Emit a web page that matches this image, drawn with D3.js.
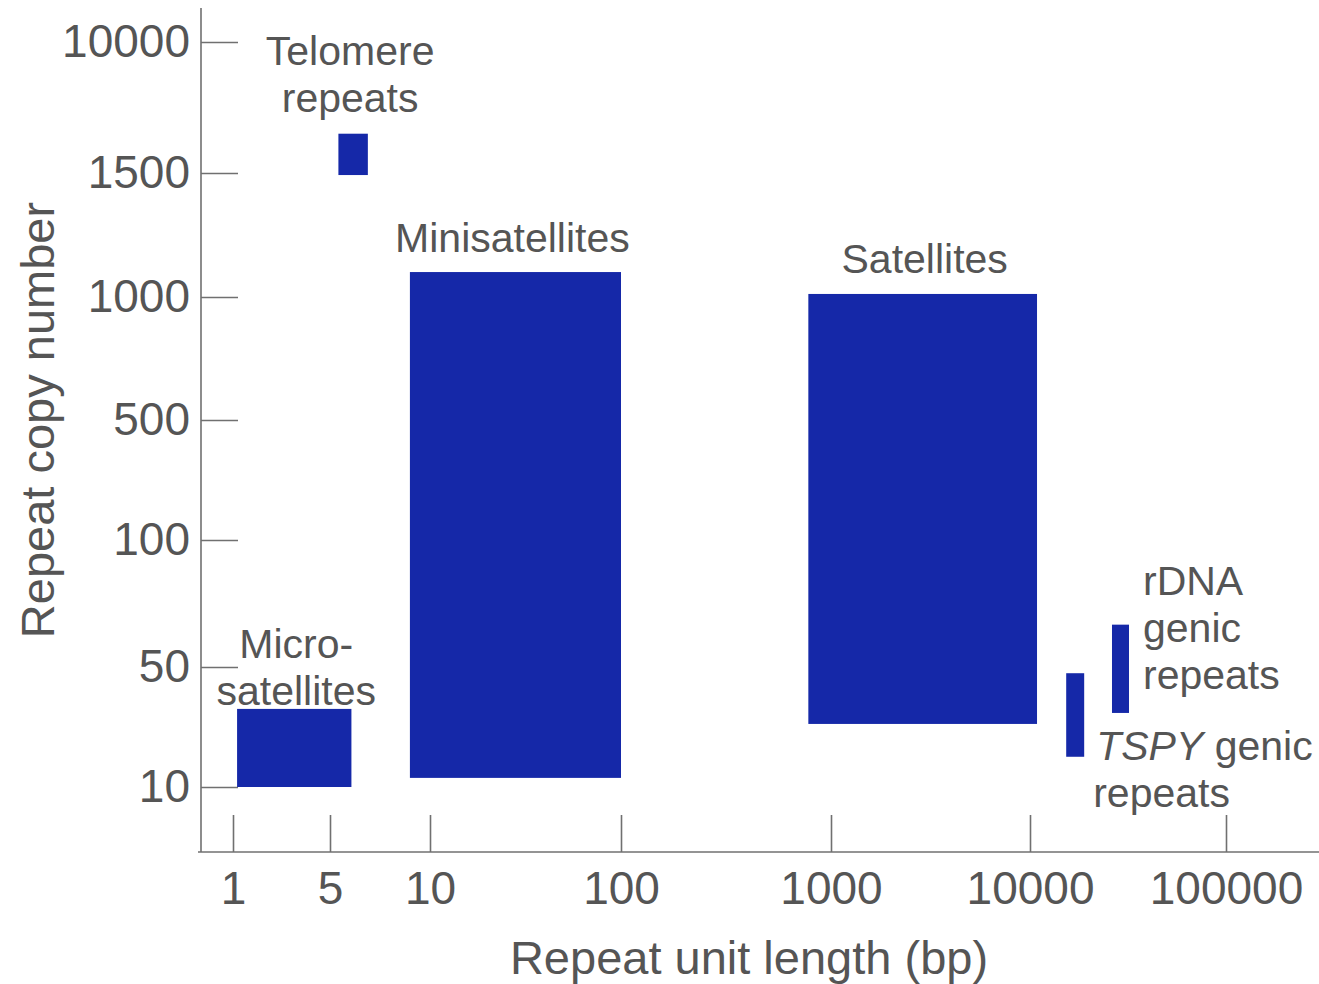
<!DOCTYPE html>
<html>
<head>
<meta charset="utf-8">
<script src="https://cdn.jsdelivr.net/npm/d3@7"></script>
<style>
  body { margin: 0; background: #fff; }
  svg { font-family: "Liberation Sans", Arial, sans-serif; }
</style>
</head>
<body>
<svg id="main"></svg>
<script>
//--------data----------
const xTicks = [1, 5, 10, 100, 1000, 10000, 100000];
const yTicks = [10, 50, 100, 500, 1000, 1500, 10000];

const repeatNames = ['Telomere', 'Micro', 'Mini', 'Satellites', 'TSPY', 'rDNA'];
// unit length range (bp)
const unitMin = [5.3, 1.07, 8.7, 780, 15300, 26200];
const unitMax = [6.5, 5.8, 100, 10860, 18900, 32000];
// copy number range
const copyMin = [1490, 10, 11.3, 23.3, 15, 27];
const copyMax = [2650, 28.5, 1085, 1010, 46, 63];

const xTitle = 'Repeat unit length (bp)';
const yTitle = 'Repeat copy number';

//--------code----------
const width = 1319, height = 984;
const svg = d3.select('#main').attr('width', width).attr('height', height);

const textColor = '#555555';
const lineColor = '#707070';
const barColor = '#1528a8';

// the axes are not evenly spaced, so piecewise log scales through the tick values
const x = d3.scaleLog().domain(xTicks).range([233, 330, 430, 621, 831, 1030, 1226]);
const y = d3.scaleLog().domain(yTicks).range([787, 667, 540, 420, 297, 173, 42]);

const axisX0 = 201, axisY0 = 852;

// axis lines
svg.append('line')
  .attr('x1', axisX0).attr('x2', axisX0)
  .attr('y1', 8).attr('y2', axisY0)
  .attr('stroke', lineColor).attr('stroke-width', 1.6);
svg.append('line')
  .attr('x1', 198).attr('x2', width)
  .attr('y1', axisY0).attr('y2', axisY0)
  .attr('stroke', lineColor).attr('stroke-width', 1.6);

const ay = d3.axisLeft(y).tickValues(yTicks).tickFormat(d => d).tickSize(-37).tickPadding(11);
const gy = svg.append('g')
  .attr('transform', `translate(${axisX0},0)`)
  .call(ay);
gy.select('.domain').remove();

const ax = d3.axisBottom(x).tickValues(xTicks).tickFormat(d => d).tickSize(-37).tickPadding(19);
const gx = svg.append('g')
  .attr('transform', `translate(0,${axisY0})`)
  .call(ax);
gx.select('.domain').remove();

svg.selectAll('.tick line').attr('stroke', lineColor).attr('stroke-width', 1.6);
svg.selectAll('.tick text')
  .attr('fill', textColor)
  .style('font-size', '46px')
  .style('font-family', '"Liberation Sans", Arial, sans-serif');

// axis titles
svg.append('text')
  .attr('x', 749).attr('y', 974)
  .attr('text-anchor', 'middle')
  .attr('fill', textColor)
  .style('font-size', '47px')
  .text(xTitle);
svg.append('text')
  .attr('transform', 'translate(54,420) rotate(-90)')
  .attr('text-anchor', 'middle')
  .attr('fill', textColor)
  .style('font-size', '47px')
  .text(yTitle);

// bars
const bars = repeatNames.map((n, i) => ({
  name: n, x0: unitMin[i], x1: unitMax[i], y0: copyMin[i], y1: copyMax[i]
}));
svg.selectAll('.bar')
  .data(bars)
  .join('rect')
  .attr('class', 'bar')
  .attr('x', d => x(d.x0))
  .attr('y', d => y(d.y1))
  .attr('width', d => x(d.x1) - x(d.x0))
  .attr('height', d => y(d.y0) - y(d.y1))
  .attr('fill', barColor);

// labels, placed relative to their bars
const byName = {};
bars.forEach(b => byName[b.name] = b);
const cx = b => (x(b.x0) + x(b.x1)) / 2;

function label(px, py, lines, anchor){
  const t = svg.append('text')
    .attr('x', px).attr('y', py)
    .attr('text-anchor', anchor)
    .attr('fill', textColor)
    .style('font-size', '41px');
  lines.forEach((l, i) => {
    const ts = t.append('tspan').attr('x', px).attr('dy', i === 0 ? 0 : 47);
    if(Array.isArray(l)){
      ts.append('tspan').style('font-style', 'italic').text(l[0]);
      ts.append('tspan').text(l[1]);
    }else{
      ts.text(l);
    }
  });
}

let b = byName['Telomere'];
label(cx(b) - 3, y(b.y1) - 69, ['Telomere', 'repeats'], 'middle');
b = byName['Mini'];
label(cx(b) - 3, y(b.y1) - 20, ['Minisatellites'], 'middle');
b = byName['Satellites'];
label(cx(b) + 2, y(b.y1) - 21, ['Satellites'], 'middle');
b = byName['Micro'];
label(cx(b) + 2, y(b.y1) - 51, ['Micro-', 'satellites'], 'middle');
b = byName['rDNA'];
label(x(b.x1) + 14, y(b.y1) - 30, ['rDNA', 'genic', 'repeats'], 'start');
b = byName['TSPY'];
label(x(b.x1) + 12, y(b.y0) + 3, [['TSPY', ' genic'], 'repeats'], 'start');
// second line of the TSPY label starts a little further left
svg.selectAll('text').filter(function(){ return this.textContent.startsWith('TSPY'); })
  .selectAll(':scope > tspan').filter((d, i) => i === 1).attr('x', x(b.x1) + 9);
</script>
</body>
</html>
